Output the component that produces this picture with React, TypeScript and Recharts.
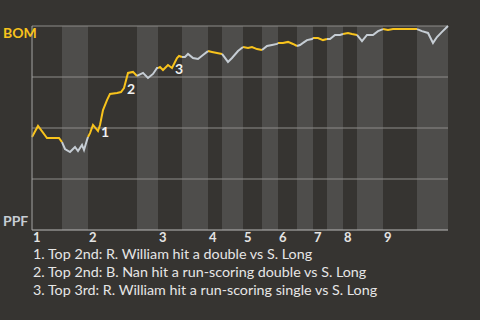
import React from 'react';
import { LineChart, Line, XAxis, YAxis, ReferenceArea, ReferenceLine, ReferenceDot } from 'recharts';

// half-inning boundaries on the play axis (top 1st ... bottom 9th, then game end)
const halfBounds = [0, 15, 28, 52.5, 63, 75, 88, 95, 105.5, 115, 123, 132.5, 140.5, 147.5, 155.5, 162.5, 175.5, 192.5, 208];
const innings = ['1', '2', '3', '4', '5', '6', '7', '8', '9'];

const playX = [
  0, 3, 7.5, 13.5, 15,
  16.5, 19, 21.5, 23, 25, 26, 27.5, 28,
  29, 30.5, 33, 34, 35.5, 37.5, 39, 42.5, 44.5, 46, 48, 50.5, 52.5,
  55.5, 58, 60.5, 62.5, 63,
  64, 65.5, 68, 70, 72.5, 73.5, 75,
  76.5, 78, 80.5, 83, 85.5, 88,
  90, 92.5, 95,
  98, 100, 103, 105.5,
  108, 110, 112.5, 115,
  117.5, 120, 122.5, 123,
  125.5, 128, 130.5, 132.5,
  134, 135.5, 137.5, 140, 140.5,
  143, 145.5, 147.5,
  149, 151.5, 154, 155.5,
  158, 160, 162.5,
  165, 167.5, 170.5, 173, 175.5,
  178, 180.5, 192.5,
  195, 198, 200.5, 202.5, 205, 208,
];

// BOM win probability after each play
const bomWp = [
  0.456, 0.51, 0.451, 0.451, 0.431,
  0.397, 0.382, 0.407, 0.387, 0.417, 0.392, 0.441, 0.456,
  0.475, 0.515, 0.485, 0.515, 0.588, 0.637, 0.667, 0.672, 0.676, 0.696, 0.77, 0.775, 0.755,
  0.77, 0.745, 0.765, 0.794, 0.794,
  0.799, 0.784, 0.809, 0.794, 0.843, 0.853, 0.848,
  0.848, 0.863, 0.843, 0.838, 0.858, 0.877,
  0.873, 0.868, 0.863,
  0.824, 0.843, 0.877, 0.897,
  0.892, 0.897, 0.887, 0.882,
  0.902, 0.907, 0.912, 0.917,
  0.917, 0.922, 0.912, 0.902,
  0.907, 0.917, 0.931, 0.936, 0.941,
  0.941, 0.931, 0.936,
  0.936, 0.956, 0.956, 0.961,
  0.966, 0.961, 0.956,
  0.926, 0.956, 0.956, 0.975, 0.985,
  0.98, 0.985, 0.985,
  0.975, 0.966, 0.917, 0.946, 0.971, 1,
];

const noteAt = [33, 46, 70];
const noteText = [
  'Top 2nd: R. William hit a double vs S. Long',
  'Top 2nd: B. Nan hit a run-scoring double vs S. Long',
  'Top 3rd: R. William hit a run-scoring single vs S. Long',
];

const BG = '#363431';
const BAND = '#4e4d4b';
const YELLOW = '#f8c31c';
const GREY = '#c6cdd4';
const FONT = "Lato, 'Open Sans', sans-serif";

const data = playX.map((x, i) => {
  const row: any = { x, top: null, bottom: null };
  for (let h = 0; h < halfBounds.length - 1; h++) {
    if (x >= halfBounds[h] && x <= halfBounds[h + 1]) {
      if (h % 2 === 0) row.top = bomWp[i];
      else row.bottom = bomWp[i];
    }
  }
  return row;
});

const inningStarts = innings.map((_, i) => halfBounds[i * 2]);

const InningTick = ({ x, y, payload }: any) => {
  const idx = inningStarts.indexOf(payload.value);
  return (
    <text x={x + 1} y={y + 4} textAnchor="start" fill="#e4e4e4" fontSize={13} fontWeight={700} fontFamily={FONT}>
      {innings[idx]}
    </text>
  );
};

const TeamTick = ({ y, payload }: any) => {
  if (payload.value === 1)
    return <text x={3} y={y + 12} fill={YELLOW} fontSize={14} fontWeight={700} fontFamily={FONT}>BOM</text>;
  if (payload.value === 0)
    return <text x={3} y={y - 4} fill={GREY} fontSize={14} fontWeight={700} fontFamily={FONT}>PPF</text>;
  return null;
};

export default function App() {
  return (
    <div style={{ position: 'fixed', left: 0, top: 0, width: 480, height: 320, background: BG }}>
      <LineChart width={480} height={248} data={data} margin={{ top: 26, right: 32, bottom: 0, left: 0 }}>
        {halfBounds.slice(0, -1).map((b, h) =>
          h % 2 === 1 ? (
            <ReferenceArea key={h} x1={b} x2={halfBounds[h + 1]} y1={0} y2={1} fill={BAND} fillOpacity={1} stroke="none" />
          ) : null
        )}
        {[0.25, 0.5, 0.75, 1].map((v) => (
          <ReferenceLine key={v} y={v} stroke="#8d8c8a" strokeWidth={1} />
        ))}
        <XAxis
          dataKey="x"
          type="number"
          domain={[0, 208]}
          ticks={inningStarts}
          tick={<InningTick />}
          tickLine={false}
          axisLine={{ stroke: '#b9b9b9' }}
          height={18}
          interval={0}
        />
        <YAxis
          type="number"
          domain={[0, 1]}
          ticks={[0, 0.25, 0.5, 0.75, 1]}
          tick={<TeamTick />}
          tickLine={false}
          axisLine={{ stroke: '#a3a3a3' }}
          width={32}
          interval={0}
        />
        <Line dataKey="top" stroke={YELLOW} strokeWidth={2} dot={false} isAnimationActive={false} connectNulls={false} />
        <Line dataKey="bottom" stroke={GREY} strokeWidth={2} dot={false} isAnimationActive={false} connectNulls={false} />
        {noteAt.map((x, i) => (
          <ReferenceDot
            key={i}
            x={x}
            y={bomWp[playX.indexOf(x)]}
            r={0}
            shape={(p: any) => (
              <text x={p.cx + 7} y={p.cy + 6} textAnchor="middle" fill="#f0f0f0" fontSize={14} fontWeight={700} fontFamily={FONT}>
                {i + 1}
              </text>
            )}
          />
        ))}
      </LineChart>
      <svg width={480} height={80} style={{ position: 'absolute', left: 0, top: 240 }}>
        {noteText.map((t, i) => (
          <text key={i} x={33} y={19 + i * 18} fill="#e6e6e6" fontSize={14.3} fontFamily={FONT}>
            {`${i + 1}. ${t}`}
          </text>
        ))}
      </svg>
    </div>
  );
}
